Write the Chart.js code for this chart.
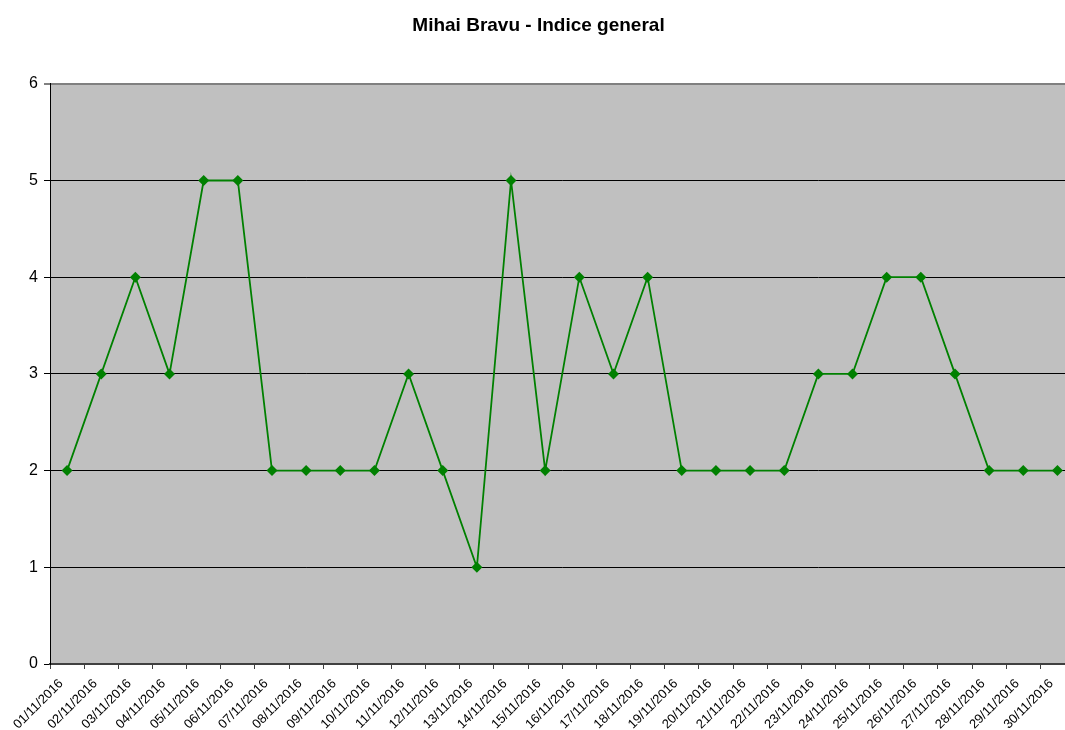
<html>
<head>
<script src="https://cdn.jsdelivr.net/npm/chart.js@4.4.0/dist/chart.umd.min.js"></script>
<style>
  html, body { margin: 0; padding: 0; overflow: hidden; background: #fff; }
  #holder { width: 1080px; height: 730px; }
</style>
</head>
<body>
<div id="holder"><canvas id="myChart"></canvas></div>
<script>
var days = ['01/11/2016','02/11/2016','03/11/2016','04/11/2016','05/11/2016','06/11/2016',
  '07/11/2016','08/11/2016','09/11/2016','10/11/2016','11/11/2016','12/11/2016',
  '13/11/2016','14/11/2016','15/11/2016','16/11/2016','17/11/2016','18/11/2016',
  '19/11/2016','20/11/2016','21/11/2016','22/11/2016','23/11/2016','24/11/2016',
  '25/11/2016','26/11/2016','27/11/2016','28/11/2016','29/11/2016','30/11/2016'];
var indice = [2,3,4,3,5,5,2,2,2,2,3,2,1,5,2,4,3,4,2,2,2,2,3,3,4,4,3,2,2,2];
var yTicks = [0,1,2,3,4,5,6];

var grayBack = {
  id: 'grayBack',
  beforeDraw: function(chart) {
    var a = chart.chartArea, c = chart.ctx;
    c.save();
    c.fillStyle = '#c0c0c0';
    c.fillRect(a.left, a.top, a.right - a.left, a.bottom - a.top);
    c.restore();
  }
};

var ctx = document.getElementById('myChart').getContext('2d');
var myChart = new Chart(ctx, {
  type: 'line',
  data: {
    labels: days,
    datasets: [{
      label: 'Indice general',
      data: indice,
      borderColor: '#008000',
      backgroundColor: '#008000',
      borderWidth: 1.8,
      pointStyle: 'rectRot',
      pointRadius: 5.5,
      pointBorderWidth: 0,
      tension: 0
    }]
  },
  options: {
    responsive: true,
    maintainAspectRatio: false,
    animation: false,
    layout: { padding: { left: 0, right: 3, top: 0, bottom: 0 } },
    plugins: {
      legend: { display: false },
      tooltip: { enabled: false },
      title: {
        display: true,
        text: 'Mihai Bravu - Indice general',
        color: '#000',
        font: { family: 'Arial, "Liberation Sans"', size: 19, weight: 'bold' },
        padding: { top: 14, bottom: 47 }
      }
    },
    scales: {
      x: {
        offset: true,
        grid: { display: true, drawOnChartArea: false, drawTicks: true, tickLength: 5, color: '#404040', offset: true },
        border: { color: '#404040', width: 2 },
        ticks: {
          color: '#000',
          font: { family: 'Arial, "Liberation Sans"', size: 13 },
          minRotation: 45, maxRotation: 45,
          autoSkip: false,
          labelOffset: -6,
          padding: 7
        },
        afterFit: function(s) { s.height = 66; }
      },
      y: {
        min: 0, max: 6,
        afterBuildTicks: function(s) { s.ticks = yTicks.map(function(v) { return { value: v }; }); },
        grid: {
          color: function(c) { return c.tick && c.tick.value === 6 ? '#808080' : '#000'; },
          lineWidth: function(c) { return c.tick && c.tick.value === 6 ? 2 : 1; },
          tickLength: 6
        },
        border: { color: '#000', width: 1 },
        ticks: {
          color: '#000',
          font: { family: 'Arial, "Liberation Sans"', size: 16 },
          padding: 6
        },
        afterFit: function(s) { s.width = 50; }
      }
    }
  },
  plugins: [grayBack]
});
</script>
</body>
</html>
